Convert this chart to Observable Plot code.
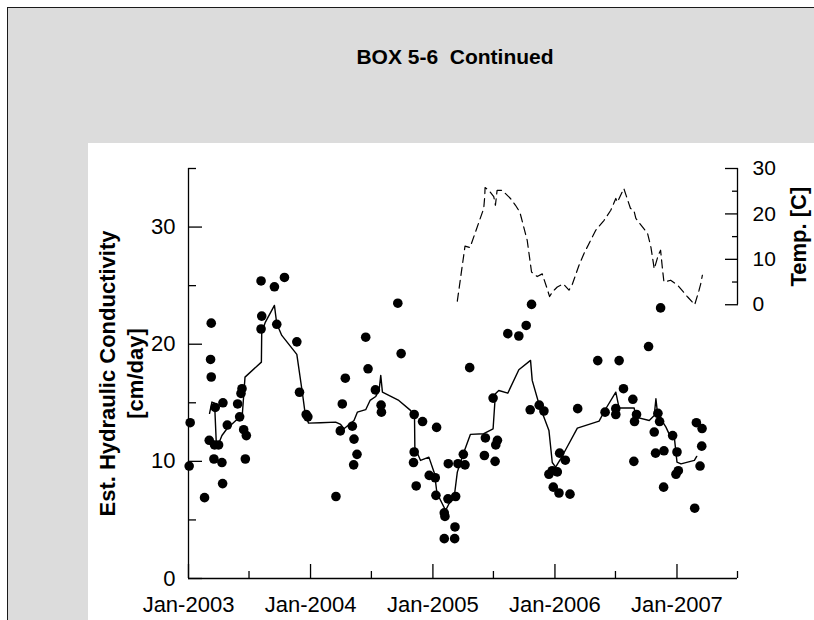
<!DOCTYPE html>
<html>
<head>
<meta charset="utf-8">
<script src="https://cdn.jsdelivr.net/npm/d3@7"></script>
<script src="https://cdn.jsdelivr.net/npm/@observablehq/plot@0.6"></script>
<style>
  html, body { margin: 0; padding: 0; background: #fff; overflow: hidden; }
  #page { position: relative; width: 814px; height: 620px; overflow: hidden; font-family: "Liberation Sans", Arial, sans-serif; }
  #box { position: absolute; left: 7px; top: 7px; width: 900px; height: 700px; background: #dcdcdc; border-left: 1.5px solid #1a1a1a; border-top: 1.5px solid #1a1a1a; }
  #title { position: absolute; left: 255px; top: 46px; width: 400px; text-align: center; font-size: 21px; line-height: 21px; font-weight: bold; white-space: pre; color: #000; }
  #panel { position: absolute; left: 88px; top: 143px; width: 760px; height: 500px; background: #fff; }
  #panel svg { position: absolute; left: 0; top: 0; max-width: none; }
</style>
</head>
<body>
<div id="page">
  <div id="box"></div>
  <div id="title">BOX 5-6  Continued</div>
  <div id="panel"></div>
</div>
<script>
// ---- measured data (hydraulic conductivity, cm/day) ----
const dotDates = [
  "2003-01-03","2003-01-06","2003-02-18","2003-03-04","2003-03-08","2003-03-10","2003-03-10","2003-03-18","2003-03-20","2003-03-22",
  "2003-04-01","2003-04-11","2003-04-13","2003-04-14","2003-04-27","2003-05-28","2003-06-03","2003-06-07","2003-06-10","2003-06-15",
  "2003-06-20","2003-06-23","2003-08-06","2003-08-08","2003-08-06","2003-09-15","2003-09-22","2003-10-15","2003-11-21","2003-11-29",
  "2003-12-19","2003-12-24",
  "2004-03-17","2004-03-30","2004-04-05","2004-04-14","2004-05-05","2004-05-09","2004-05-10","2004-05-19","2004-06-14","2004-06-21",
  "2004-07-13","2004-07-30","2004-07-31","2004-09-18","2004-09-28","2004-11-04","2004-11-06","2004-11-06","2004-11-12","2004-12-01",
  "2004-12-21",
  "2005-01-08","2005-01-10","2005-01-12","2005-02-04","2005-02-06","2005-02-04","2005-02-15","2005-02-16","2005-03-07","2005-03-08",
  "2005-03-10","2005-03-17","2005-04-02","2005-04-07","2005-04-21","2005-06-04","2005-06-07","2005-06-30","2005-07-06","2005-07-08",
  "2005-07-13","2005-08-13","2005-09-15","2005-10-07","2005-10-19","2005-10-23","2005-11-15","2005-11-29","2005-12-14","2005-12-24",
  "2005-12-27",
  "2006-01-08","2006-01-13","2006-01-15","2006-02-01","2006-02-15","2006-03-10","2006-05-09","2006-05-31","2006-07-02","2006-07-02",
  "2006-07-12","2006-07-25","2006-08-22","2006-08-25","2006-08-27","2006-09-02","2006-10-08","2006-10-25","2006-10-29","2006-11-05",
  "2006-11-10","2006-11-13","2006-11-22","2006-11-23","2006-12-19","2006-12-29",
  "2007-01-01","2007-01-05","2007-02-23","2007-02-28","2007-03-11","2007-03-16","2007-03-17"
];
const dotValues = [
  9.6,13.3,6.9,11.8,18.7,21.8,17.2,10.2,11.4,14.6,
  11.4,9.9,8.1,15.0,13.1,14.9,13.8,15.8,16.2,12.7,
  10.2,12.2,25.4,22.4,21.3,24.9,21.7,25.7,20.2,15.9,
  14.0,13.8,
  7.0,12.6,14.9,17.1,13.0,9.7,11.9,10.6,20.6,17.9,
  16.1,14.8,14.2,23.5,19.2,9.9,14.0,10.8,7.9,13.4,
  8.8,
  8.6,7.1,12.9,5.6,5.3,3.4,6.8,9.8,3.4,4.4,
  7.0,9.8,10.6,9.7,18.0,10.5,12.0,15.4,10.0,11.4,
  11.8,20.9,20.7,21.6,14.4,23.4,14.8,14.3,8.9,9.2,
  7.8,
  9.1,7.3,10.7,10.1,7.2,14.5,18.6,14.2,14.5,14.0,
  18.6,16.2,15.3,10.0,13.4,14.0,19.8,12.5,10.7,14.1,
  13.4,23.1,7.8,10.9,12.2,8.9,
  10.8,9.2,6.0,13.3,9.6,11.3,12.8
];

// ---- solid line (smoothed conductivity) ----
const lineDates = [
  "2003-03-05","2003-03-12","2003-03-20","2003-03-25","2003-04-01","2003-04-11","2003-04-26","2003-06-02","2003-06-11","2003-06-19",
  "2003-08-07","2003-08-08","2003-08-19","2003-09-15","2003-09-22","2003-10-07","2003-11-21","2003-12-08","2003-12-16","2003-12-26",
  "2004-01-31","2004-03-16","2004-03-31","2004-04-10","2004-05-10","2004-05-20","2004-06-14","2004-06-27","2004-07-14","2004-07-24",
  "2004-07-29","2004-08-03","2004-09-21","2004-10-26","2004-11-07","2004-11-08","2004-11-25","2004-12-20","2005-01-06","2005-01-13",
  "2005-02-08","2005-02-18","2005-03-05","2005-03-15","2005-04-02","2005-04-23","2005-06-02","2005-06-30","2005-07-07","2005-07-17",
  "2005-08-13","2005-09-15","2005-10-20","2005-10-25","2005-11-14","2005-12-14","2005-12-24","2006-01-03","2006-01-18","2006-02-02",
  "2006-03-09","2006-05-13","2006-06-02","2006-07-02","2006-07-12","2006-08-26","2006-08-31","2006-10-10","2006-10-25","2006-10-30",
  "2006-11-04","2006-11-29","2006-12-09","2006-12-24","2007-01-01","2007-01-13","2007-02-22","2007-03-01"
];
const lineValues = [
  14.1,15.06,14.97,11.64,11.5,12.21,12.78,13.77,14.0,17.19,
  18.47,21.03,21.89,23.31,21.75,20.75,19.13,15.77,14.06,13.26,
  13.3,13.35,13.15,12.78,13.49,14.2,14.41,15.2,15.54,16.05,
  17.34,15.91,15.2,14.35,13.77,11.21,10.08,10.36,8.94,7.3,
  5.81,6.38,6.81,9.08,10.65,12.3,12.36,12.78,15.77,16.05,
  15.82,17.82,18.62,16.91,14.92,12.64,9.9,9.5,10.22,10.99,
  12.84,13.43,14.49,15.91,14.55,14.55,13.77,13.49,13.92,15.34,
  14.06,12.92,12.3,12.07,9.93,9.79,10.08,10.42
];

// ---- dashed line (temperature, C) ----
const tempDates = [
  "2005-03-15","2005-04-07","2005-04-22","2005-06-02","2005-06-05","2005-06-06","2005-06-17","2005-07-02","2005-07-07","2005-07-12",
  "2005-07-27","2005-08-21","2005-09-05","2005-09-18","2005-10-10","2005-10-23","2005-11-09","2005-11-24","2005-12-07","2005-12-16",
  "2005-12-24","2006-01-08","2006-01-26","2006-02-12","2006-02-22","2006-03-14","2006-03-29","2006-05-03","2006-05-28","2006-06-17",
  "2006-07-02","2006-07-07","2006-07-26","2006-08-15","2006-08-25","2006-08-31","2006-10-05","2006-10-15","2006-10-25","2006-11-06",
  "2006-11-13","2006-11-18","2006-11-23","2006-12-13","2007-01-03","2007-02-02","2007-02-23","2007-03-08","2007-03-13","2007-03-18"
];
const tempValues = [
  0.8,12.9,12.6,21.2,23.8,25.8,25.2,23.8,21.9,25.2,
  25.2,23.4,21.9,20.4,14.2,7.2,6.2,6.8,3.9,1.8,
  2.8,3.9,4.6,3.2,4.5,8.7,11.3,16.4,18.6,20.8,
  23.4,22.6,25.6,21.2,20.8,19.0,15.7,12.7,7.9,10.9,
  12.0,8.3,5.0,5.4,4.3,1.7,0.0,3.2,4.6,6.5
];

// ---- ticks ----
const xMajorTicks = ["2003-01-01","2004-01-01","2005-01-01","2006-01-01","2007-01-01"];
const xMinorTicks = ["2003-07-01","2004-07-01","2005-07-01","2006-07-01","2007-07-01"];
const yMajorTicks = [0, 10, 20, 30];
const yMinorTicks = [5, 15, 25, 35];
const tempMajorTicks = [0, 10, 20, 30];
const tempMinorTicks = [5, 15, 25];

const xStart = new Date("2003-01-01");
const xEnd = new Date("2007-07-01");
// secondary (temperature) axis occupies the upper part of the conductivity range
const tLo = 23.37, tHi = 35;
const tempToK = t => tLo + t * (tHi - tLo) / 30;
const kToTemp = k => Math.round((k - tLo) * 30 / (tHi - tLo));

const dots = dotDates.map((d, i) => ({date: new Date(d), k: dotValues[i]}));
const smooth = lineDates.map((d, i) => ({date: new Date(d), k: lineValues[i]}));
const temps = tempDates.map((d, i) => ({date: new Date(d), t: tempValues[i]}));

const fmt = d3.utcFormat("%b-%Y");

const chart = Plot.plot({
  width: 726,
  height: 477,
  marginLeft: 100,
  marginRight: 77,
  marginTop: 25,
  marginBottom: 42,
  style: {background: "transparent", fontFamily: "'Liberation Sans', Arial, sans-serif", fontSize: "22px", color: "#000", overflow: "visible"},
  x: {type: "utc", domain: [xStart, xEnd]},
  y: {domain: [0, 35]},
  marks: [
    Plot.ruleX([xStart], {stroke: "#000", strokeWidth: 1.3}),
    Plot.ruleY([0], {stroke: "#000", strokeWidth: 1.3}),
    Plot.ruleX([xEnd], {y1: tempToK(0), y2: tempToK(30), stroke: "#000", strokeWidth: 1.3}),
    Plot.axisX(xMajorTicks.map(d => new Date(d)), {anchor: "bottom", tickSize: -14, tickPadding: 32, tickFormat: fmt, fontSize: 22, label: null, strokeWidth: 1.3}),
    Plot.axisX(xMinorTicks.map(d => new Date(d)), {anchor: "bottom", tickSize: -7, tickFormat: () => "", label: null, strokeWidth: 1.3}),
    Plot.axisY(yMajorTicks, {anchor: "left", tickSize: -14, tickPadding: 27, fontSize: 22, label: null, strokeWidth: 1.3}),
    Plot.axisY(yMinorTicks, {anchor: "left", tickSize: -8, tickFormat: () => "", label: null, strokeWidth: 1.3}),
    Plot.axisY(tempMajorTicks.map(tempToK), {anchor: "right", tickSize: -13, tickPadding: 28, tickFormat: kToTemp, fontSize: 21, label: null, strokeWidth: 1.3}),
    Plot.axisY(tempMinorTicks.map(tempToK), {anchor: "right", tickSize: -6, tickFormat: () => "", label: null, strokeWidth: 1.3}),
    Plot.text(["Est. Hydraulic Conductivity"], {frameAnchor: "left", textAnchor: "middle", rotate: -90, dx: -81, fontWeight: "bold", fontSize: 22}),
    Plot.text(["[cm/day]"], {frameAnchor: "left", textAnchor: "middle", rotate: -90, dx: -53, fontWeight: "bold", fontSize: 22}),
    Plot.text(["Temp. [C]"], {x: () => xEnd, y: () => tempToK(15), textAnchor: "middle", rotate: -90, dx: 61, fontWeight: "bold", fontSize: 22}),
    Plot.line(temps, {x: "date", y: d => tempToK(d.t), stroke: "#000", strokeWidth: 1.2, strokeDasharray: "8,5"}),
    Plot.line(smooth, {x: "date", y: "k", stroke: "#000", strokeWidth: 1.4}),
    Plot.dot(dots, {x: "date", y: "k", r: 4.8, fill: "#000", stroke: "none"})
  ]
});
document.getElementById("panel").appendChild(chart);
</script>
</body>
</html>
